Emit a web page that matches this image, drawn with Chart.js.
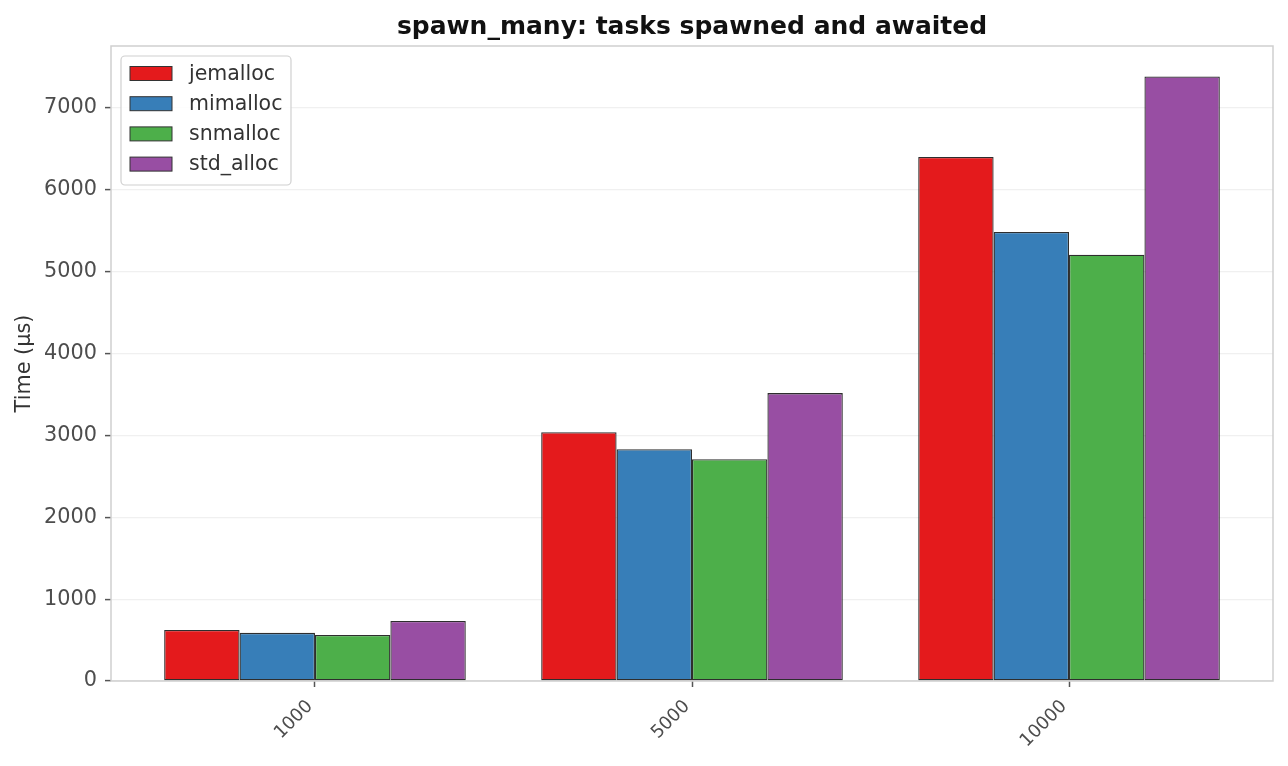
<!DOCTYPE html>
<html>
<head>
<meta charset="utf-8">
<script src="https://cdn.jsdelivr.net/npm/chart.js@4"></script>
<style>
html,body{margin:0;padding:0;background:#fff;}
#wrap{width:1288px;height:766px;}
</style>
</head>
<body>
<div id="wrap"><canvas id="c" width="1288" height="766"></canvas></div>
<script>
const categories = ['1000', '5000', '10000'];
const seriesNames = ['jemalloc', 'mimalloc', 'snmalloc', 'std_alloc'];
const jemalloc = [624, 3039, 6400];
const mimalloc = [588, 2831, 5483];
const snmalloc = [563, 2709, 5207];
const std_alloc = [734, 3516, 7382];
const yTicks = [0, 1000, 2000, 3000, 4000, 5000, 6000, 7000];
const colors = ['#e41a1c', '#377eb8', '#4daf4a', '#984ea3'];
const chartTitle = 'spawn_many: tasks spawned and awaited';

const FONT = "'DejaVu Sans'";
const seriesValues = [jemalloc, mimalloc, snmalloc, std_alloc];

const datasets = seriesNames.map((name, k) => ({
  label: name,
  data: categories.map((c, i) => ({ x: i, y: seriesValues[k][i] })),
  backgroundColor: colors[k],
  borderColor: '#2e2e2e',
  borderWidth: 1.3,
  borderSkipped: false,
  categoryPercentage: 0.8,
  barPercentage: 1.0
}));

const framePlugin = {
  id: 'frame',
  afterDatasetsDraw(chart) {
    const { ctx, chartArea: a } = chart;
    ctx.save();
    ctx.strokeStyle = '#cfcfcf';
    ctx.lineWidth = 1.5;
    ctx.strokeRect(a.left, a.top, a.right - a.left, a.bottom - a.top);
    ctx.restore();
  }
};

const titlePlugin = {
  id: 'plotTitle',
  afterDraw(chart) {
    const { ctx, chartArea: a } = chart;
    ctx.save();
    ctx.font = 'bold 25px ' + FONT;
    ctx.fillStyle = '#111111';
    ctx.textAlign = 'center';
    ctx.textBaseline = 'alphabetic';
    ctx.fillText(chartTitle, (a.left + a.right) / 2, a.top - 12.5);
    ctx.restore();
  }
};

const legendPlugin = {
  id: 'innerLegend',
  afterDraw(chart) {
    const { ctx, chartArea: a } = chart;
    const x0 = a.left + 10, y0 = a.top + 10;
    const w = 170, h = 129, r = 4;
    ctx.save();
    ctx.beginPath();
    ctx.roundRect(x0, y0, w, h, r);
    ctx.fillStyle = 'rgba(255,255,255,0.85)';
    ctx.fill();
    ctx.strokeStyle = '#d0d0d0';
    ctx.lineWidth = 1.2;
    ctx.stroke();
    ctx.font = '20.5px ' + FONT;
    ctx.textBaseline = 'middle';
    ctx.textAlign = 'left';
    seriesNames.forEach((name, k) => {
      const cy = y0 + 17.5 + k * 30.2;
      ctx.fillStyle = colors[k];
      ctx.fillRect(x0 + 9, cy - 7, 42, 14);
      ctx.strokeStyle = '#333333';
      ctx.lineWidth = 1;
      ctx.strokeRect(x0 + 9, cy - 7, 42, 14);
      ctx.fillStyle = '#333333';
      ctx.fillText(name, x0 + 68, cy + 1);
    });
    ctx.restore();
  }
};

new Chart(document.getElementById('c'), {
  type: 'bar',
  data: { datasets },
  plugins: [framePlugin, legendPlugin, titlePlugin],
  options: {
    responsive: false,
    animation: false,
    devicePixelRatio: 1,
    layout: { padding: { left: 0, right: 15, top: 46, bottom: 0 } },
    plugins: {
      legend: { display: false },
      tooltip: { enabled: false },
      title: { display: false }
    },
    scales: {
      x: {
        type: 'linear',
        offset: false,
        min: -0.541,
        max: 2.541,
        afterBuildTicks(scale) { scale.ticks = categories.map((c, i) => ({ value: i })); },
        afterFit(scale) { scale.height = 85; },
        border: { display: false },
        grid: { offset: false, drawOnChartArea: false, drawTicks: true, tickLength: 6, tickColor: '#555555', tickWidth: 1.5 },
        ticks: {
          callback: (v) => categories[v],
          minRotation: 45,
          maxRotation: 45,
          padding: 9,
          labelOffset: -5,
          color: '#4d4d4d',
          font: { family: FONT, size: 18 }
        }
      },
      y: {
        min: 0,
        max: 7755,
        afterBuildTicks(scale) { scale.ticks = yTicks.map(v => ({ value: v })); },
        afterFit(scale) { scale.width = 111; },
        border: { display: false },
        grid: { color: '#f0f0f0', lineWidth: 1.2, drawTicks: true, tickLength: 6, tickColor: '#555555', tickWidth: 1.5 },
        ticks: {
          callback: (v) => String(v),
          padding: 8,
          color: '#4d4d4d',
          font: { family: FONT, size: 20.8 }
        },
        title: {
          display: true,
          text: 'Time (µs)',
          color: '#333333',
          font: { family: FONT, size: 20.8 },
          padding: { top: 12, bottom: 0 }
        }
      }
    }
  }
});
</script>
</body>
</html>
